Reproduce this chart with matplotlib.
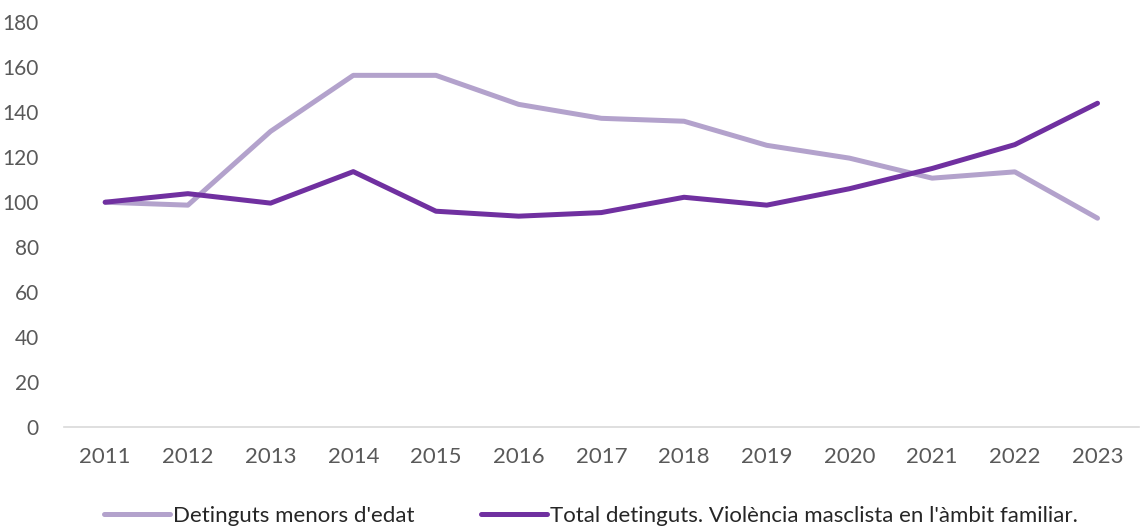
import matplotlib.pyplot as plt

years = ["2011", "2012", "2013", "2014", "2015", "2016", "2017",
         "2018", "2019", "2020", "2021", "2022", "2023"]
menors = [100, 98.7, 131.5, 156.4, 156.4, 143.5, 137.3, 136.0, 125.3, 119.6, 110.7, 113.5, 92.9]
total = [100, 103.8, 99.6, 113.6, 96.0, 93.8, 95.4, 102.2, 98.7, 106.0, 115.0, 125.6, 144.0]

plt.rcParams['font.family'] = ['Lato', 'DejaVu Sans']

fig = plt.figure(figsize=(11.4, 5.3), dpi=100)
ax = fig.add_axes([0.056, 0.194, 0.943, 0.764])

x = range(len(years))
ax.plot(x, menors, color="#b3a2cc", lw=3.6, solid_capstyle="round",
        label="Detinguts menors d'edat")
ax.plot(x, total, color="#7030a0", lw=3.6, solid_capstyle="round",
        label="Total detinguts. Violència masclista en l'àmbit familiar.")

ax.set_xlim(-0.5, len(years) - 0.5)
ax.set_ylim(0, 180)
ax.set_yticks(range(0, 181, 20))
ax.set_xticks(list(x))
ax.set_xticklabels(years)

for s in ["top", "right", "left"]:
    ax.spines[s].set_visible(False)
ax.spines["bottom"].set_color("#d9d9d9")
ax.spines["bottom"].set_linewidth(1.2)
ax.tick_params(axis="y", length=0, labelsize=15, labelcolor="#595959", pad=18)
ax.tick_params(axis="x", length=0, labelsize=16, labelcolor="#595959", pad=14)

ax.legend(loc="upper center", bbox_to_anchor=(0.49, -0.145), ncol=2, frameon=False,
          fontsize=16, handlelength=3.0, handletextpad=0.1, columnspacing=3.0,
          labelcolor="#262626")

fig.savefig("out.png")
